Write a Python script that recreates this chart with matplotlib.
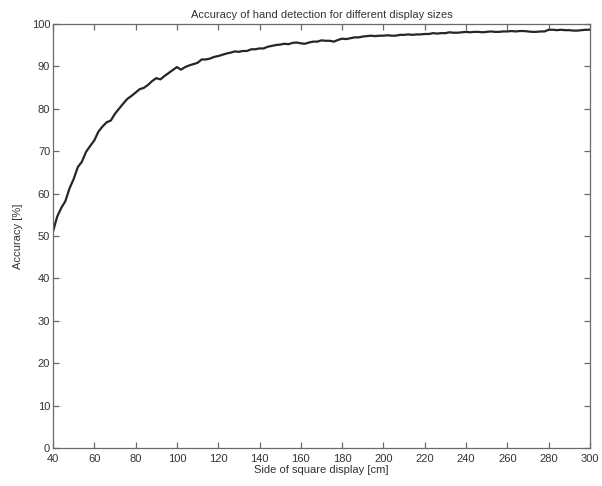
import matplotlib
matplotlib.use('Agg')
import matplotlib.pyplot as plt

# display side [cm], read every 2 cm
side_cm = list(range(40, 302, 2))
# accuracy [%]
accuracy = [51.0, 54.5, 56.6, 58.2, 61.2, 63.4, 66.2, 67.5, 69.8, 71.2,
            72.5, 74.6, 75.8, 76.8, 77.2, 78.8, 80.0, 81.2, 82.3, 83.0,
            83.8, 84.6, 84.9, 85.6, 86.5, 87.2, 86.9, 87.7, 88.4, 89.1,
            89.8, 89.2, 89.8, 90.2, 90.5, 90.8, 91.6, 91.6, 91.8, 92.2,
            92.4, 92.7, 93.0, 93.2, 93.5, 93.4, 93.6, 93.6, 94.0, 94.0,
            94.2, 94.2, 94.6, 94.8, 95.0, 95.1, 95.3, 95.2, 95.5, 95.6,
            95.4, 95.3, 95.6, 95.8, 95.8, 96.1, 96.0, 96.0, 95.8, 96.2,
            96.5, 96.4, 96.6, 96.8, 96.8, 97.0, 97.1, 97.2, 97.1, 97.2,
            97.2, 97.3, 97.2, 97.2, 97.4, 97.4, 97.5, 97.4, 97.5, 97.5,
            97.6, 97.6, 97.8, 97.7, 97.8, 97.8, 98.0, 97.9, 97.9, 98.0,
            98.1, 98.0, 98.1, 98.1, 98.0, 98.1, 98.2, 98.1, 98.1, 98.2,
            98.2, 98.3, 98.2, 98.3, 98.3, 98.2, 98.1, 98.1, 98.2, 98.2,
            98.6, 98.6, 98.5, 98.6, 98.5, 98.5, 98.4, 98.4, 98.5, 98.6,
            98.6]

x_ticks = list(range(40, 320, 20))
y_ticks = list(range(0, 110, 10))

plt.rcParams['font.family'] = ['Liberation Sans', 'DejaVu Sans']
plt.rcParams['font.size'] = 8

fig = plt.figure(figsize=(6.02, 4.86), dpi=100)
ax = fig.add_axes([0.088, 0.078, 0.892, 0.873])

ax.plot(side_cm, accuracy, color='#262626', linewidth=1.6)

ax.set_xlim(40, 300)
ax.set_ylim(0, 100)
ax.set_xticks(x_ticks)
ax.set_yticks(y_ticks)

for s in ax.spines.values():
    s.set_color('#6a6a6a')
    s.set_linewidth(0.9)
ax.tick_params(direction='in', length=4, width=0.9, color='#6a6a6a',
               top=True, right=True, labelcolor='#333333', labelsize=8)
ax.tick_params(axis='x', pad=4)
ax.tick_params(axis='y', pad=2)

ax.set_title('Accuracy of hand detection for different display sizes',
             fontsize=8, color='#333333', pad=4)
ax.set_xlabel('Side of square display [cm]', fontsize=8, color='#333333', labelpad=1)
ax.set_ylabel('Accuracy [%]', fontsize=8, color='#333333', labelpad=6)

fig.savefig('out.png', dpi=100)
